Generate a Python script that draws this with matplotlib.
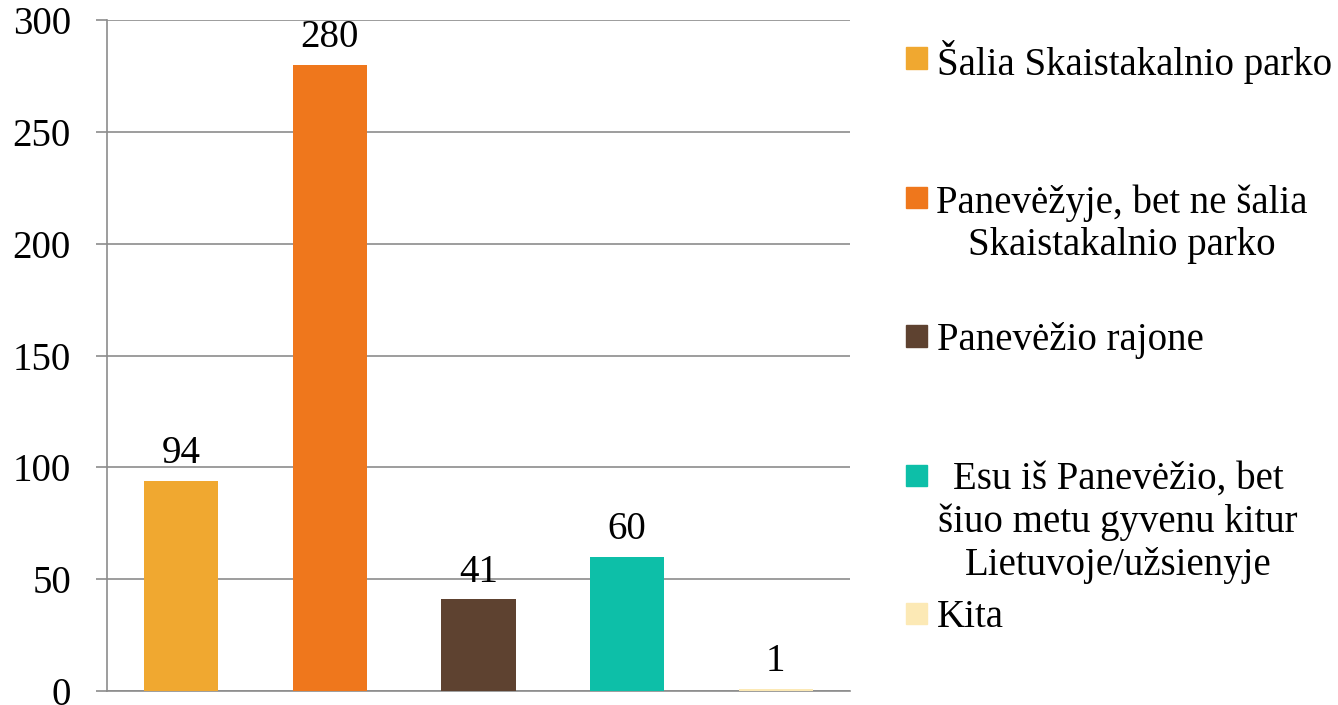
import matplotlib
matplotlib.use("Agg")
import matplotlib.pyplot as plt
from matplotlib.patches import Rectangle

categories = ["Šalia Skaistakalnio parko",
              "Panevėžyje, bet ne šalia\nSkaistakalnio parko",
              "Panevėžio rajone",
              "Esu iš Panevėžio, bet\nšiuo metu gyvenu kitur\nLietuvoje/užsienyje",
              "Kita"]
values = [94, 280, 41, 60, 1]
colors = ["#F0A830", "#EF771C", "#5E4230", "#0DBFA8", "#FCE9B5"]
yticks = [0, 50, 100, 150, 200, 250, 300]

plt.rcParams['font.family'] = ['Liberation Serif', 'DejaVu Serif']
FS = 28

fig = plt.figure(figsize=(13.38, 7.05), dpi=100)
ax = fig.add_axes([107/1338, 1-691/705, (850-107)/1338, (691-20)/705])

x = list(range(len(values)))
bars = ax.bar(x, values, width=0.5, color=colors, zorder=3)
ax.set_xlim(-0.5, len(values)-0.5)
ax.set_ylim(0, 300)
ax.set_yticks(yticks)
ax.set_yticklabels([str(t) for t in yticks], fontsize=FS)
ax.set_xticks([])
ax.grid(axis='y', color='#8C8C8C', linewidth=1.2, zorder=0)
for s in ['top', 'right']:
    ax.spines[s].set_visible(False)
ax.spines['left'].set_color('#8C8C8C')
ax.spines['left'].set_linewidth(1.2)
ax.spines['bottom'].set_color('#8C8C8C')
ax.spines['bottom'].set_linewidth(1.2)
ax.tick_params(axis='y', length=8, width=1.2, color='#8C8C8C', pad=18)

for xi, v in zip(x, values):
    ax.annotate(str(v), (xi, v), xytext=(0, 6), textcoords='offset points',
                ha='center', va='bottom', fontsize=FS)

# legend (manual placement)
marker_y = [58, 198, 336, 475, 613]
centers = {2: 1122, 3: 1118}
for cat, col, my in zip(categories, colors, marker_y):
    fy = 1 - my/705
    fig.patches.append(Rectangle((906/1338, fy - 10.5/705), 21/1338, 21/705,
                                 transform=fig.transFigure, color=col))
    lines = cat.split("\n")
    if len(lines) == 1:
        fig.text(937/1338, fy, cat, ha='left', va='center_baseline', fontsize=FS)
    else:
        fig.text(centers[len(lines)]/1338, fy + 14/705, cat, ha='center', va='top',
                 fontsize=FS, multialignment='center', linespacing=1.2)

fig.savefig("out.png", dpi=100)
